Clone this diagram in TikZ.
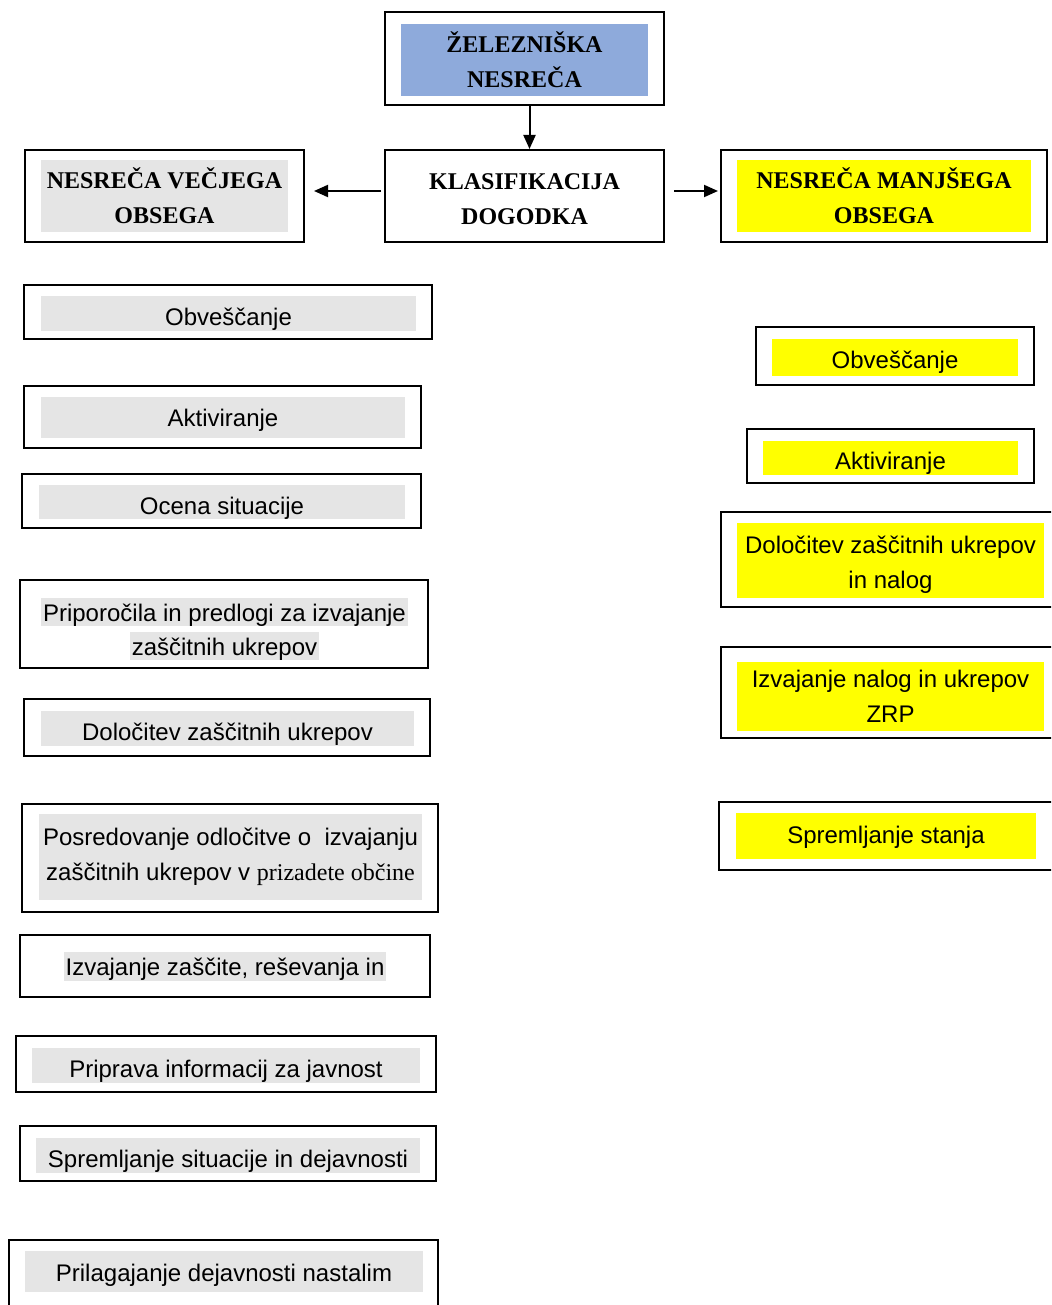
\documentclass[tikz,border=0pt]{standalone}
\usepackage{fontspec}
\setmainfont{Liberation Serif}
\setsansfont{Liberation Sans}
\usetikzlibrary{arrows.meta}
\definecolor{hlgray}{HTML}{E5E5E5}
\definecolor{hlblue}{HTML}{8EAADB}
\definecolor{hlyellow}{HTML}{FFFF00}
\tikzset{
  box/.style = {draw=black, line width=1pt, inner sep=0pt},
  txt/.style = {inner sep=0pt, align=center, text centered, font=\sffamily\fontsize{12}{17.5}\selectfont},
  head/.style = {txt, font=\rmfamily\bfseries\fontsize{12}{17.5}\selectfont},
  hl_g/.style = {txt, fill=hlgray},
  hl_y/.style = {txt, fill=hlyellow},
  base/.style = {text height=#1, text depth=0pt},
  arr/.style = {-{Triangle[length=7pt,width=6pt]}, line width=1pt}
}
\begin{document}
\begin{tikzpicture}[x=0.5pt, y=-0.5pt]
\clip (0,0) rectangle (1051,1305);
\node [box, minimum width=139.5pt, minimum height=46.5pt] (zel) at (524.5,58.5) {};
\node [head, fill=hlblue, minimum width=123.5pt, minimum height=36pt] (zelt) at (524.5,60) {ŽELEZNIŠKA\\NESREČA};
\node [box, minimum width=139.5pt, minimum height=46pt] (klas) at (524.5,196) {};
\node [head] (klast) at (524.5,199) {KLASIFIKACIJA\\DOGODKA};
\node [box, minimum width=139.5pt, minimum height=46pt] (vecji) at (164.5,196) {};
\node [head, fill=hlgray, minimum width=123.5pt, minimum height=36pt] (vecjit) at (164.5,196) {NESREČA VEČJEGA\\OBSEGA};
\node [box, minimum width=163pt, minimum height=46pt] (manjsi) at (884,196) {};
\node [head, fill=hlyellow, minimum width=147pt, minimum height=36pt] (manjsit) at (884,196) {NESREČA MANJŠEGA\\OBSEGA};

\draw [arr] ([xshift=2.5pt]zel.south) -- ([xshift=2.5pt]klas.north);
\draw [arr, shorten <=1.5pt, shorten >=4.5pt] ([yshift=2.5pt]klas.west) -- ([yshift=2.5pt]vecji.east);
\draw [arr, shorten <=4.5pt, shorten >=1pt] ([yshift=2.5pt]klas.east) -- ([yshift=2.5pt]manjsi.west);

\node [box, minimum width=204pt, minimum height=27pt] (lobv) at (228,312) {};
\node [hl_g, base=12.6pt, minimum width=187.5pt, minimum height=17.5pt] (lobvt) at (228.5,313) {Obveščanje};
\node [box, minimum width=198.5pt, minimum height=31pt] (lakt) at (222.5,417) {};
\node [hl_g, base=9.6pt, minimum width=182pt, minimum height=20.5pt] (laktt) at (223,417) {Aktiviranje};
\node [box, minimum width=199.5pt, minimum height=27pt] (locena) at (221.5,501) {};
\node [hl_g, base=12.6pt, minimum width=183pt, minimum height=17pt] (locenat) at (222,502) {Ocena situacije};
\node [box, minimum width=204pt, minimum height=44pt] (lprip) at (224,624) {};
\node [hl_g, base=9.6pt, inner xsep=1pt, minimum height=14pt] (lprip1) at (224.5,612) {Priporočila in predlogi za izvajanje};
\node [hl_g, base=9.6pt, inner xsep=1pt, minimum height=14pt] (lprip2) at (224.5,646) {zaščitnih ukrepov};
\node [box, minimum width=203pt, minimum height=28.5pt] (ldol) at (227,727.5) {};
\node [hl_g, base=12.1pt, minimum width=186.5pt, minimum height=17.5pt] (ldolt) at (227.5,728.5) {Določitev zaščitnih ukrepov};
\node [box, minimum width=208pt, minimum height=54pt] (lposr) at (230,858) {};
\node [hl_g, minimum width=191.5pt, minimum height=43pt] (lposrt) at (230.5,857) {Posredovanje odločitve o\ \ izvajanju\\zaščitnih ukrepov v {\rmfamily prizadete občine}};
\node [box, minimum width=205pt, minimum height=31pt] (lizv) at (225,966) {};
\node [hl_g, base=9.1pt, inner xsep=1pt, minimum height=14.5pt] (lizvt) at (225,966.5) {Izvajanje zaščite, reševanja in};
\node [box, minimum width=210pt, minimum height=28pt] (lpripr) at (226,1064) {};
\node [hl_g, base=12.1pt, minimum width=194pt, minimum height=17.5pt] (lpriprt) at (226,1065.5) {Priprava informacij za javnost};
\node [box, minimum width=208pt, minimum height=27.5pt] (lsprem) at (228,1153.5) {};
\node [hl_g, base=12.1pt, minimum width=192pt, minimum height=17.5pt] (lspremt) at (228,1155.5) {Spremljanje situacije in dejavnosti};
\node [box, minimum width=214.5pt, minimum height=40pt] (lpril) at (223.5,1280) {};
\node [hl_g, base=10.6pt, minimum width=199pt, minimum height=20.5pt] (lprilt) at (224,1271) {Prilagajanje dejavnosti nastalim};

\node [box, minimum width=139pt, minimum height=29pt] (robv) at (895,356) {};
\node [hl_y, base=11.1pt, minimum width=123pt, minimum height=18.5pt] (robvt) at (895,357.5) {Obveščanje};
\node [box, minimum width=143.5pt, minimum height=27pt] (rakt) at (890.5,456) {};
\node [hl_y, base=12.1pt, minimum width=127.5pt, minimum height=17pt] (raktt) at (890.5,457.5) {Aktiviranje};
\node [box, minimum width=169.5pt, minimum height=47.5pt] (rdol) at (890.5,559.5) {};
\node [hl_y, base=28.4pt, minimum width=153.5pt, minimum height=37.5pt] (rdolt) at (890.5,560) {Določitev zaščitnih ukrepov\\in nalog};
\node [box, minimum width=169.5pt, minimum height=45.5pt] (rizv) at (890.5,692.5) {};
\node [hl_y, minimum width=153.5pt, minimum height=34.5pt] (rizvt) at (890.5,696) {Izvajanje nalog in ukrepov\\ZRP};
\node [box, minimum width=170.5pt, minimum height=34pt] (rsprem) at (889.5,836) {};
\node [hl_y, base=7.6pt, minimum width=150pt, minimum height=23pt] (rspremt) at (886,836) {Spremljanje stanja};
\end{tikzpicture}
\end{document}
